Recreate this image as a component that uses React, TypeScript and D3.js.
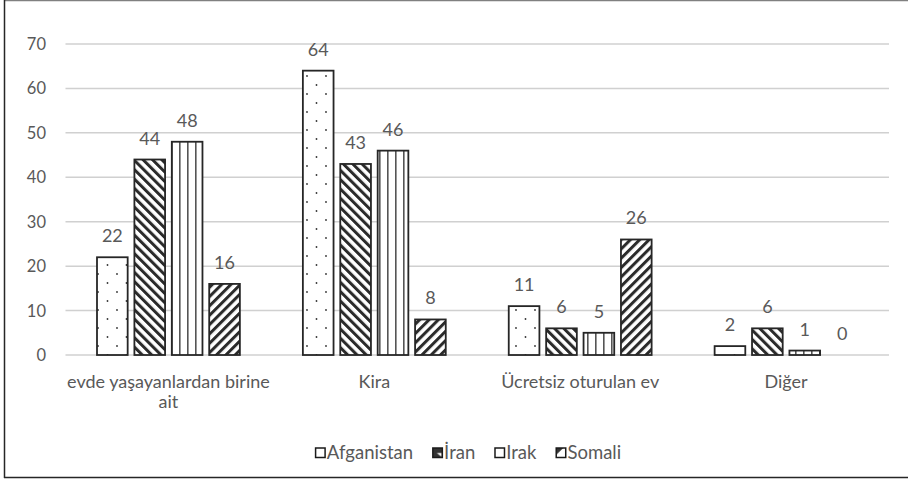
import React, { useEffect, useRef } from "react";
import * as d3 from "d3";

const categories = ["evde yaşayanlardan birine ait", "Kira", "Ücretsiz oturulan ev", "Diğer"];
const seriesNames = ["Afganistan", "İran", "Irak", "Somali"];
const afganistan = [22, 64, 11, 2];
const iran = [44, 43, 6, 6];
const irak = [48, 46, 5, 1];
const somali = [16, 8, 26, 0];
const yTicks = [0, 10, 20, 30, 40, 50, 60, 70];

const W = 908;
const H = 479;
const FONT = "Lato, 'Open Sans', sans-serif";
const TXT = "#595959";
const EDGE = "#262626";

export default function App() {
  const ref = useRef<SVGSVGElement>(null);

  useEffect(() => {
    const svg = d3.select(ref.current);
    svg.selectAll("*").remove();

    const values = [afganistan, iran, irak, somali];
    const fills = ["url(#pAfg)", "url(#pIran)", "url(#pIrak)", "url(#pSom)"];

    const defs = svg.append("defs");
    const pA = defs.append("pattern").attr("id", "pAfg").attr("patternUnits", "userSpaceOnUse")
      .attr("width", 19).attr("height", 18);
    pA.append("rect").attr("width", 19).attr("height", 18).attr("fill", "#fff");
    pA.append("circle").attr("cx", 3).attr("cy", 4).attr("r", 0.9).attr("fill", "#333");
    pA.append("circle").attr("cx", 12.5).attr("cy", 13).attr("r", 0.9).attr("fill", "#333");
    const pI = defs.append("pattern").attr("id", "pIran").attr("patternUnits", "userSpaceOnUse")
      .attr("width", 6.6).attr("height", 10).attr("patternTransform", "rotate(-45)");
    pI.append("rect").attr("width", 6.6).attr("height", 10).attr("fill", "#fff");
    pI.append("rect").attr("width", 3).attr("height", 10).attr("fill", "#2b2b2b");
    const pK = defs.append("pattern").attr("id", "pIrak").attr("patternUnits", "userSpaceOnUse")
      .attr("width", 8).attr("height", 10);
    pK.append("rect").attr("width", 8).attr("height", 10).attr("fill", "#fff");
    pK.append("rect").attr("x", 3).attr("width", 1.6).attr("height", 10).attr("fill", "#555");
    const pS = defs.append("pattern").attr("id", "pSom").attr("patternUnits", "userSpaceOnUse")
      .attr("width", 6.6).attr("height", 10).attr("patternTransform", "rotate(45)");
    pS.append("rect").attr("width", 6.6).attr("height", 10).attr("fill", "#fff");
    pS.append("rect").attr("width", 3).attr("height", 10).attr("fill", "#2b2b2b");
    const pIL = defs.append("pattern").attr("id", "pIranL").attr("patternUnits", "objectBoundingBox")
      .attr("width", 1).attr("height", 1);
    pIL.append("rect").attr("width", 10).attr("height", 10).attr("fill", "#333");
    pIL.append("path").attr("d", "M4,5 L9,9 L9,5 Z").attr("fill", "#fff");
    const pSL = defs.append("pattern").attr("id", "pSomL").attr("patternUnits", "objectBoundingBox")
      .attr("width", 1).attr("height", 1);
    pSL.append("rect").attr("width", 10).attr("height", 10).attr("fill", "#fff");
    pSL.append("path").attr("d", "M0,0 L7,0 L0,7 Z").attr("fill", "#333");

    svg.append("rect").attr("width", W).attr("height", H).attr("fill", "#fff");

    svg.append("line").attr("x1", 4.5).attr("x2", W + 5).attr("y1", 0.5).attr("y2", 0.5)
      .attr("stroke", "#808080").attr("stroke-width", 1.5);
    svg.append("line").attr("x1", 4.5).attr("x2", 4.5).attr("y1", 0).attr("y2", 478)
      .attr("stroke", EDGE).attr("stroke-width", 1.5);
    svg.append("line").attr("x1", 4).attr("x2", W + 5).attr("y1", 477.5).attr("y2", 477.5)
      .attr("stroke", EDGE).attr("stroke-width", 1.5);

    const left = 65.5, right = 889, top = 44, bottom = 355;
    const y = d3.scaleLinear().domain([0, 70]).range([bottom, top]);
    const x0 = d3.scaleBand<string>().domain(categories).range([left, right]).padding(0);
    const bw = x0.bandwidth();
    const x1 = d3.scaleBand<string>().domain(seriesNames)
      .range([bw * 0.153, bw * 0.847]).paddingInner(0.18).paddingOuter(0);

    svg.append("g").selectAll("line").data(yTicks).join("line")
      .attr("x1", left).attr("x2", right)
      .attr("y1", (d) => y(d)).attr("y2", (d) => y(d))
      .attr("stroke", "#d0d0d0").attr("stroke-width", 1.5);

    svg.append("g").selectAll("text").data(yTicks).join("text")
      .attr("x", 46).attr("y", (d) => y(d) + 6)
      .attr("text-anchor", "end").attr("font-family", FONT).attr("font-size", 16.5)
      .attr("fill", TXT).text((d) => String(d));

    seriesNames.forEach((s, si) => {
      const g = svg.append("g");
      g.selectAll("rect").data(values[si]).join("rect")
        .attr("x", (_d, i) => (x0(categories[i]) as number) + (x1(s) as number))
        .attr("y", (d) => y(d))
        .attr("width", x1.bandwidth())
        .attr("height", (d) => Math.max(0, y(0) - y(d)))
        .attr("fill", fills[si])
        .attr("stroke", (d) => (d > 0 ? EDGE : "none"))
        .attr("stroke-width", 1.8);
      g.selectAll("text").data(values[si]).join("text")
        .attr("x", (_d, i) => (x0(categories[i]) as number) + (x1(s) as number) + x1.bandwidth() / 2)
        .attr("y", (d) => y(d) - 15)
        .attr("text-anchor", "middle").attr("font-family", FONT).attr("font-size", 18)
        .attr("fill", TXT).text((d) => String(d));
    });

    const maxW = bw + 12;
    categories.forEach((c) => {
      const cxp = (x0(c) as number) + bw / 2;
      const t = svg.append("text")
        .attr("x", cxp).attr("y", 388)
        .attr("text-anchor", "middle").attr("font-family", FONT).attr("font-size", 18)
        .attr("fill", TXT);
      const words = c.split(" ");
      let line: string[] = [];
      let ts = t.append("tspan").attr("x", cxp).attr("dy", 0);
      words.forEach((w) => {
        line.push(w);
        ts.text(line.join(" "));
        const node = ts.node() as SVGTSpanElement;
        if (node.getComputedTextLength() > maxW && line.length > 1) {
          line.pop();
          ts.text(line.join(" "));
          line = [w];
          ts = t.append("tspan").attr("x", cxp).attr("dy", 20).text(w);
        }
      });
    });

    const legY = 453;
    const leg = svg.append("g");
    let cx = 0;
    seriesNames.forEach((s, i) => {
      const gi = leg.append("g");
      gi.append("rect").attr("x", cx + 0.75).attr("y", legY - 5).attr("width", 9.5).attr("height", 9.5)
        .attr("fill", i === 1 ? "url(#pIranL)" : i === 3 ? "url(#pSomL)" : "#fff")
        .attr("stroke", "#1a1a1a").attr("stroke-width", 1.5);
      const tx = gi.append("text").attr("x", cx + 12).attr("y", legY + 6)
        .attr("font-family", FONT).attr("font-size", 18.5).attr("fill", TXT).text(s);
      const tw = (tx.node() as SVGTextElement).getComputedTextLength();
      cx += 12 + tw + 19;
    });
    const totalW = cx - 19;
    leg.attr("transform", `translate(${468 - totalW / 2},0)`);
  }, []);

  return (
    <svg ref={ref} width={W} height={H}
      style={{ position: "absolute", left: 0, top: 0, display: "block" }} />
  );
}
